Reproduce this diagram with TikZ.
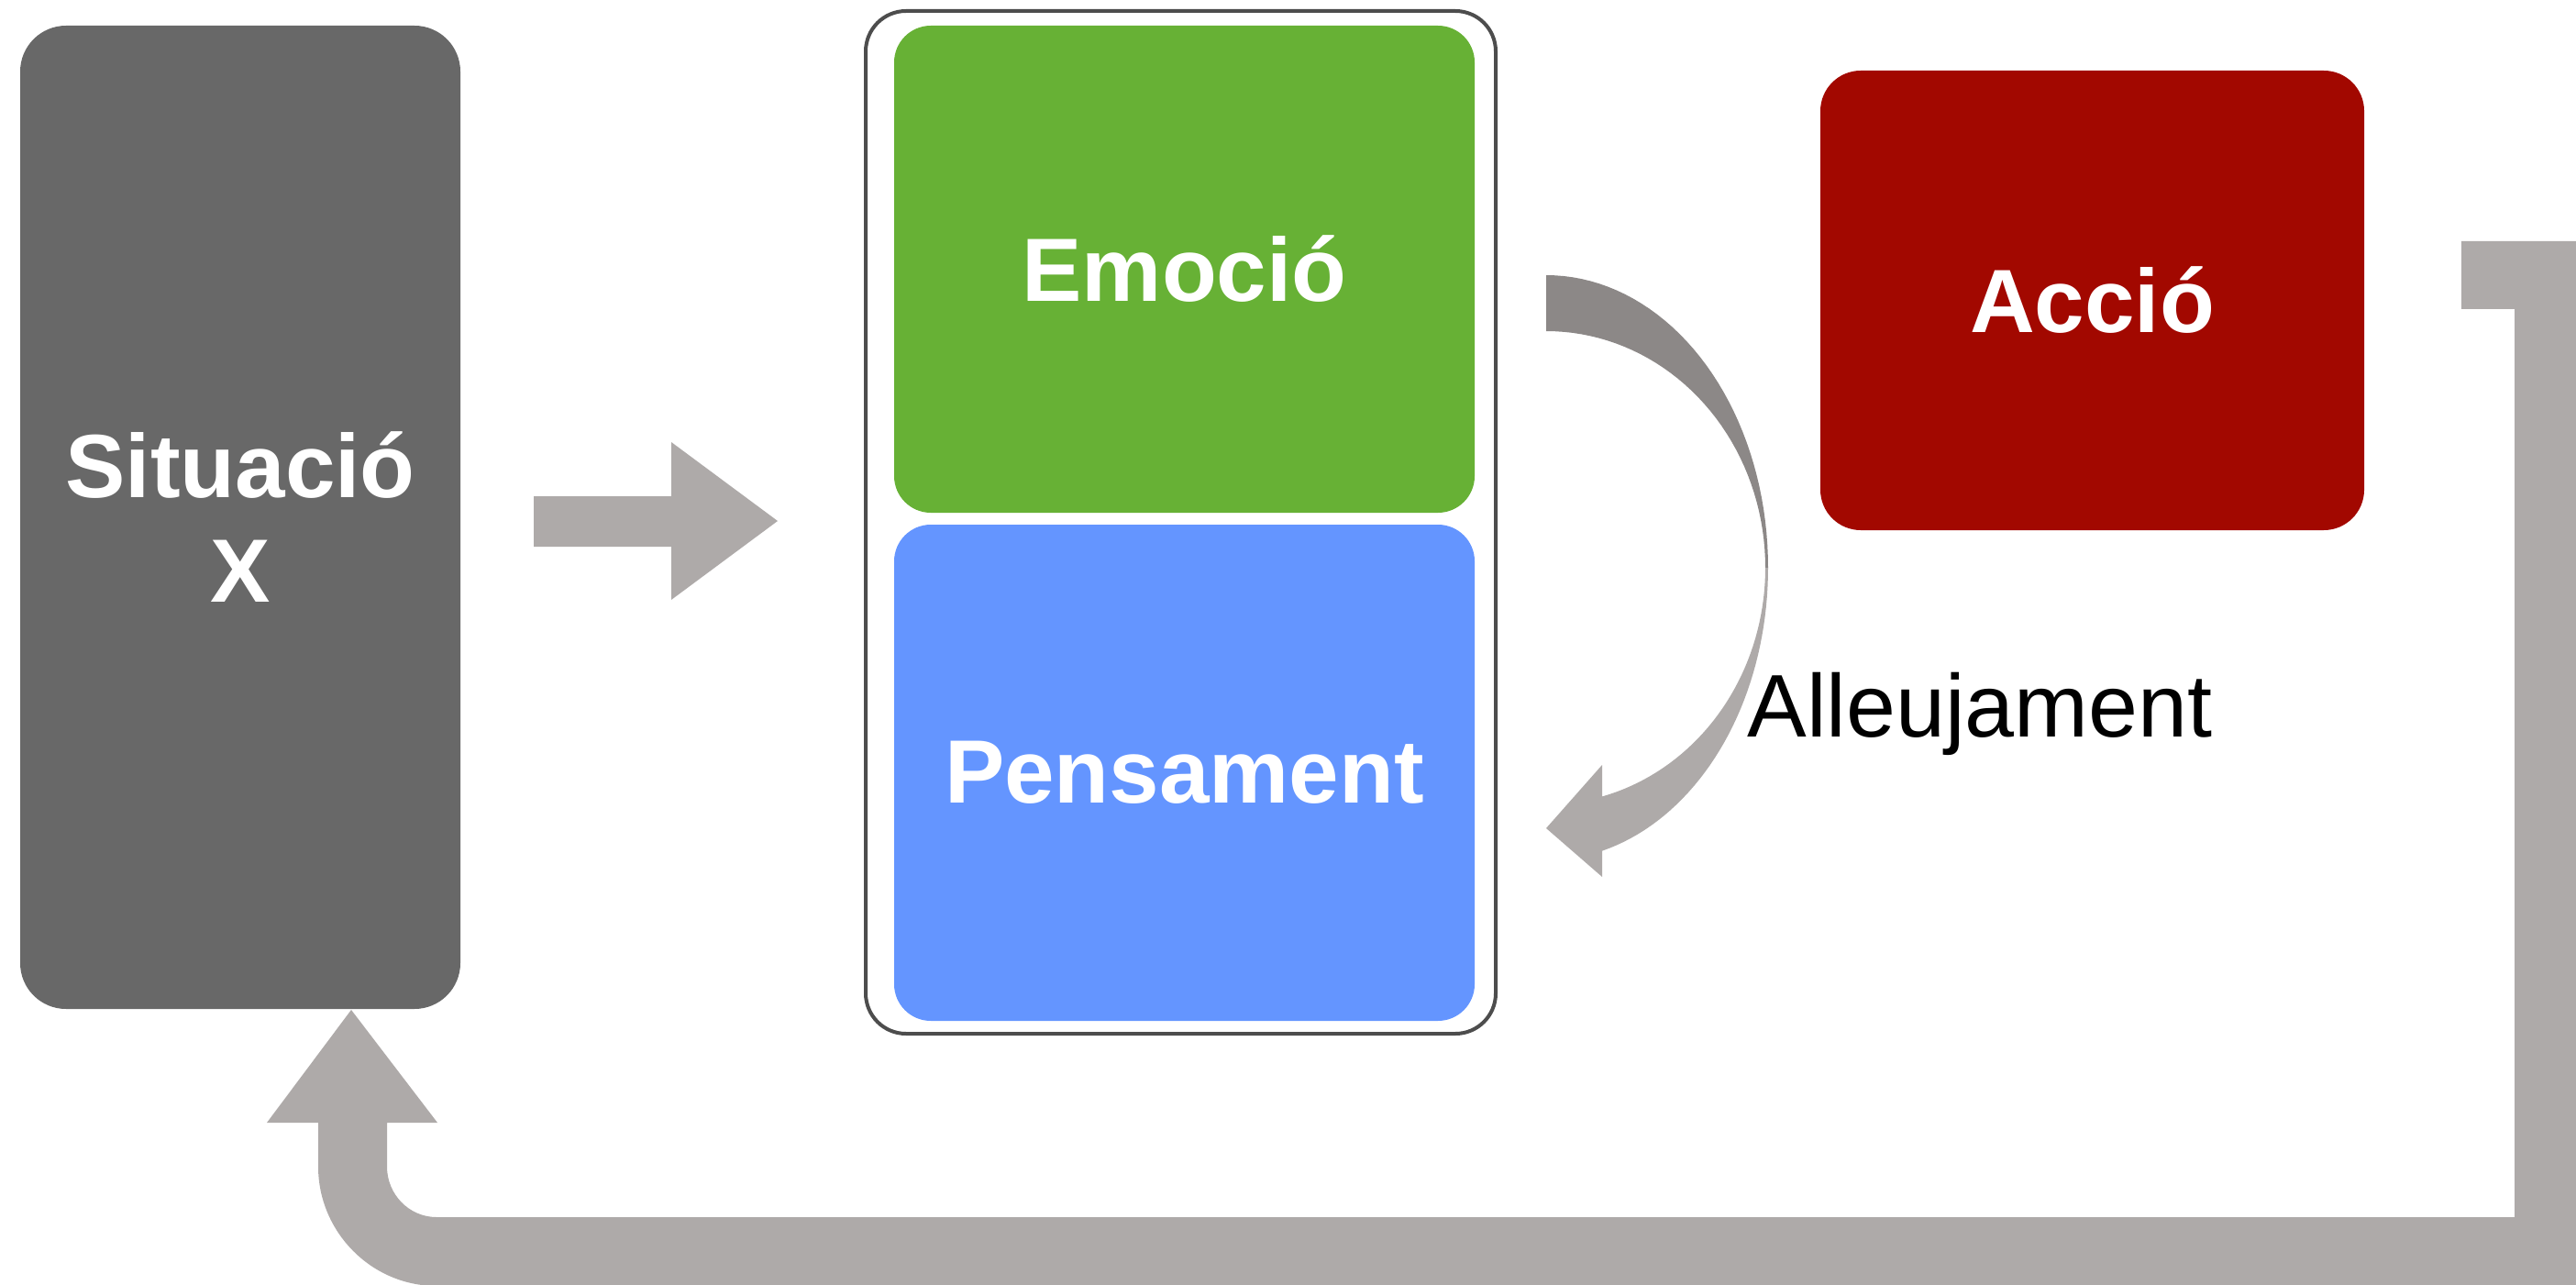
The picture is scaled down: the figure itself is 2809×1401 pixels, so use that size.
\documentclass[tikz,border=0pt]{standalone}
\usepackage{fontspec}
\setmainfont{Liberation Sans}
\definecolor{grisfosc}{RGB}{104,104,104}
\definecolor{verd}{RGB}{103,177,53}
\definecolor{blau}{RGB}{100,149,255}
\definecolor{vermell}{RGB}{162,8,0}
\definecolor{fletxa}{RGB}{174,170,169}
\definecolor{fletxafosca}{RGB}{140,136,135}
\definecolor{marc}{RGB}{77,77,77}
\tikzset{caixa/.style={rounded corners=20pt, inner sep=0pt, text=white, align=center, font=\fontsize{49}{57}\selectfont\bfseries}}

\begin{document}
\begin{tikzpicture}[x=0.5pt,y=-0.5pt]
\useasboundingbox (0,0) rectangle (2809,1401);
\clip (0,0) rectangle (2809,1401);

\node[caixa, fill=grisfosc, rounded corners=25pt, minimum width=240pt, minimum height=536pt] (sit) at (262,564) {Situació\\X};
\node[draw=marc, line width=2pt, rounded corners=22pt, minimum width=343.5pt, minimum height=557.5pt] (marc) at (1287.5,569.5) {};
\node[caixa, fill=verd, minimum width=316.5pt, minimum height=265.5pt] (emo) at (1291.5,293.5) {Emoció};
\node[caixa, fill=blau, minimum width=316.5pt, minimum height=270.5pt] (pens) at (1291.5,842.5) {Pensament};
\node[caixa, fill=vermell, rounded corners=22pt, minimum width=296.5pt, minimum height=250.5pt] (accio) at (2281.5,327.5) {Acció};
\node[anchor=base west, inner sep=0pt, font=\fontsize{48.5}{57}\selectfont] (alleu) at (1905,803) {Alleujament};

% fletxa recta
\fill[fletxa] (582,541) -- (732,541) -- (732,482) -- (848,568) -- (732,654) -- (732,596) -- (582,596) -- cycle;

% fletxa corba
\fill[fletxafosca, variable=\t, samples=40] plot[domain=90:0] ({1686+242*cos(\t)},{619-319*sin(\t)}) -- plot[domain=0:90] ({1686+239*cos(\t)},{619-258*sin(\t)}) -- cycle;
\fill[fletxa, variable=\t, samples=40] plot[domain=0:-75.4] ({1686+242*cos(\t)},{619-319*sin(\t)}) -- (1747,956) -- (1686,903) -- (1747,834) -- plot[domain=-75.2:0] ({1686+239*cos(\t)},{619-258*sin(\t)}) -- cycle;

% fletxa de retorn
\fill[fletxa] (1406,1327) -- (476,1327) .. controls (446,1327) and (422,1302) .. (422,1272) -- (422,1224) -- (477,1224) -- (383,1101) -- (291,1224) -- (347,1224) -- (347,1272) .. controls (347,1343) and (405,1402) .. (476,1402) -- (1406,1402) -- cycle;
\fill[fletxa] (1405,1327) -- (2742,1327) -- (2742,337) -- (2684,337) -- (2684,263) -- (2817,263) -- (2817,1402) -- (1405,1402) -- cycle;
\end{tikzpicture}
\end{document}
